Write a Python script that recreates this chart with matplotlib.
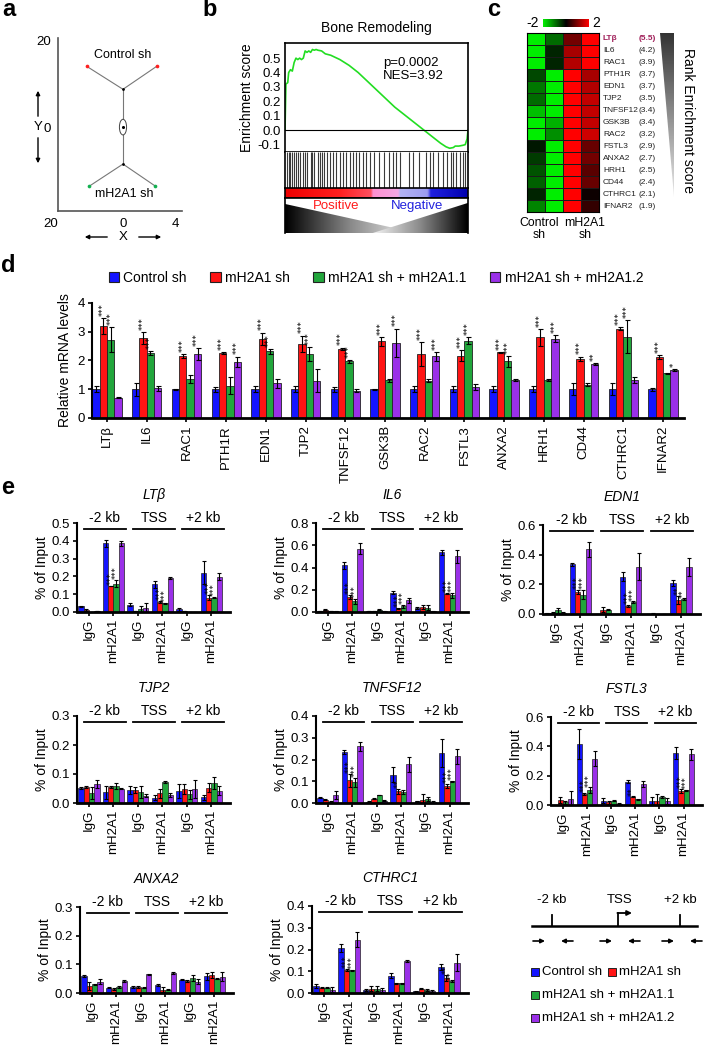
import numpy as np
import matplotlib
matplotlib.use("Agg")
import matplotlib.pyplot as plt
from matplotlib.patches import Polygon, Rectangle, Ellipse
from matplotlib.colors import LinearSegmentedColormap
import matplotlib.transforms as mtransforms

plt.rcParams['font.family'] = ['Liberation Sans', 'DejaVu Sans']
plt.rcParams['axes.linewidth'] = 1.2

W, H = 704, 1050
fig = plt.figure(figsize=(W / 100, H / 100), dpi=100)


def pax(l, t, r, b):
    return fig.add_axes([l / W, 1 - b / H, (r - l) / W, (b - t) / H])


def ftext(x, y, s, **kw):
    return fig.text(x / W, 1 - y / H, s, **kw)


FS = 9.5
C_BLUE, C_RED, C_GREEN, C_PURPLE = '#1414ff', '#ff1414', '#22a63c', '#9a30e8'
COLORS = [C_BLUE, C_RED, C_GREEN, C_PURPLE]
GROUPS = ['Control sh', 'mH2A1 sh', 'mH2A1 sh + mH2A1.1', 'mH2A1 sh + mH2A1.2']

# ---------------- data: panel a ----------------
a_ctrl_x = [-2.8, 2.6]
a_ctrl_y = [14.0, 14.0]
a_kd_x = [-2.6, 2.5]
a_kd_y = [-13.6, -13.6]
a_node_x = [0.0, 0.0]
a_node_y = [8.7, -8.5]

# ---------------- data: panel b ----------------
es_x = [0.0, 0.005, 0.015, 0.02, 0.03, 0.04, 0.05, 0.06, 0.07, 0.08, 0.09, 0.10,
        0.11, 0.12, 0.13, 0.14, 0.15, 0.16, 0.17, 0.18, 0.20, 0.22, 0.25, 0.30,
        0.35, 0.40, 0.45, 0.50, 0.55, 0.60, 0.65, 0.70, 0.75, 0.80, 0.85, 0.88,
        0.90, 0.92, 0.93, 0.95, 0.97, 0.985, 0.995, 1.0]
es_y = [0.0, 0.32, 0.33, 0.40, 0.42, 0.41, 0.47, 0.50, 0.49, 0.50, 0.49, 0.50,
        0.55, 0.54, 0.55, 0.54, 0.56, 0.555, 0.56, 0.555, 0.55, 0.53, 0.52, 0.49,
        0.45, 0.40, 0.34, 0.28, 0.22, 0.16, 0.11, 0.06, 0.01, -0.04, -0.09, -0.115,
        -0.125, -0.12, -0.11, -0.11, -0.105, -0.10, -0.06, 0.0]
hits = [0.01, 0.02, 0.03, 0.04, 0.05, 0.06, 0.07, 0.08, 0.10, 0.11, 0.12, 0.14,
        0.15, 0.16, 0.18, 0.19, 0.20, 0.215, 0.23, 0.245, 0.26, 0.28, 0.30, 0.315,
        0.335, 0.355, 0.37, 0.39, 0.405, 0.425, 0.445, 0.465, 0.485, 0.515, 0.54,
        0.57, 0.59, 0.605, 0.63, 0.68, 0.70, 0.73, 0.77, 0.79, 0.81, 0.835, 0.865,
        0.885, 0.905, 0.92, 0.935, 0.955, 0.97, 0.985]

# ---------------- data: panel c ----------------
c_genes = ['LTβ', 'IL6', 'RAC1', 'PTH1R', 'EDN1', 'TJP2', 'TNFSF12', 'GSK3B',
           'RAC2', 'FSTL3', 'ANXA2', 'HRH1', 'CD44', 'CTHRC1', 'IFNAR2']
c_scores = ['(5.5)', '(4.2)', '(3.9)', '(3.7)', '(3.7)', '(3.5)', '(3.4)', '(3.4)',
            '(3.2)', '(2.9)', '(2.7)', '(2.5)', '(2.4)', '(2.1)', '(1.9)']
c_values = [[-2.0, -0.9, 0.9, 2.0],
            [-2.0, -0.3, 1.3, 2.0],
            [-2.0, -0.3, 1.4, 2.0],
            [-0.6, -2.0, 2.0, 1.3],
            [-1.0, -2.0, 2.0, 1.4],
            [-0.9, -2.0, 2.0, 1.5],
            [-1.6, -2.0, 2.0, 1.5],
            [-2.0, -1.5, 2.0, 1.5],
            [-2.0, -1.2, 2.0, 1.6],
            [-0.2, -2.0, 2.0, 0.8],
            [-0.5, -2.0, 2.0, 0.9],
            [-0.7, -2.0, 2.0, 0.7],
            [-0.8, -2.0, 2.0, 0.8],
            [-0.3, -2.0, 2.0, 0.1],
            [-1.1, -2.0, 2.0, 0.4]]

# ---------------- data: panel d ----------------
d_genes = c_genes
d_ctrl = [1.0, 1.0, 1.0, 1.0, 1.0, 1.0, 1.0, 1.0, 1.0, 1.0, 1.0, 1.0, 1.0, 1.0, 1.0]
d_ctrl_err = [0.1, 0.22, 0.01, 0.08, 0.1, 0.1, 0.08, 0.01, 0.1, 0.1, 0.1, 0.1, 0.2, 0.2, 0.05]
d_kd = [3.2, 2.78, 2.15, 2.25, 2.75, 2.58, 2.4, 2.67, 2.23, 2.17, 2.28, 2.8, 2.05, 3.1, 2.12]
d_kd_err = [0.27, 0.2, 0.08, 0.03, 0.22, 0.28, 0.05, 0.15, 0.42, 0.2, 0.02, 0.3, 0.08, 0.05, 0.06]
d_r11 = [2.72, 2.25, 1.35, 1.12, 2.32, 2.22, 1.97, 1.31, 1.3, 2.68, 1.97, 1.31, 1.16, 2.83, 1.55]
d_r11_err = [0.43, 0.07, 0.15, 0.3, 0.08, 0.25, 0.05, 0.05, 0.04, 0.12, 0.18, 0.04, 0.05, 0.58, 0.02]
d_r12 = [0.7, 1.03, 2.22, 1.95, 1.2, 1.3, 0.95, 2.61, 2.14, 1.09, 1.32, 2.75, 1.87, 1.33, 1.66]
d_r12_err = [0.02, 0.08, 0.22, 0.18, 0.15, 0.4, 0.05, 0.5, 0.15, 0.1, 0.04, 0.12, 0.03, 0.1, 0.03]
d_stars = [[(1, '***'), (2, '***')], [(1, '***'), (2, '***')], [(1, '***'), (3, '***')],
           [(1, '***'), (3, '***')], [(1, '***'), (2, '***')], [(1, '***'), (2, '***')],
           [(1, '***'), (2, '***')], [(1, '***'), (3, '***')], [(1, '***'), (3, '***')],
           [(1, '***'), (2, '***')], [(1, '***'), (2, '***')], [(1, '***'), (3, '***')],
           [(1, '***'), (3, '**')], [(1, '***'), (2, '***')], [(1, '***'), (3, '*')]]

# ---------------- data: panel e ----------------
e_sites = ['IgG', 'mH2A1', 'IgG', 'mH2A1', 'IgG', 'mH2A1']
e_regions = ['-2 kb', 'TSS', '+2 kb']

LTB_V = [[0.032, 0.387, 0.040, 0.155, 0.015, 0.220],
         [0.012, 0.145, 0.005, 0.055, 0.003, 0.080],
         [0.000, 0.160, 0.015, 0.050, 0.000, 0.080],
         [0.005, 0.385, 0.020, 0.190, 0.000, 0.198]]
LTB_E = [[0.004, 0.020, 0.008, 0.020, 0.008, 0.065],
         [0.004, 0.000, 0.000, 0.005, 0.000, 0.015],
         [0.000, 0.020, 0.020, 0.003, 0.000, 0.003],
         [0.002, 0.012, 0.030, 0.004, 0.000, 0.020]]
LTB_S = {1: [(1, '***'), (2, '***')], 3: [(1, '***'), (2, '***')], 5: [(1, '***'), (2, '***')]}

IL6_V = [[0.010, 0.420, 0.010, 0.175, 0.035, 0.535],
         [0.020, 0.135, 0.010, 0.035, 0.045, 0.165],
         [0.010, 0.095, 0.020, 0.050, 0.040, 0.150],
         [0.005, 0.570, 0.005, 0.105, 0.005, 0.500]]
IL6_E = [[0.003, 0.030, 0.003, 0.015, 0.008, 0.025],
         [0.005, 0.020, 0.003, 0.005, 0.020, 0.005],
         [0.003, 0.020, 0.005, 0.015, 0.020, 0.020],
         [0.002, 0.050, 0.002, 0.020, 0.002, 0.060]]
IL6_S = {1: [(1, '***'), (2, '***')], 3: [(1, '***'), (2, '***')], 5: [(1, '***'), (2, '***')]}

EDN1_V = [[0.005, 0.335, 0.000, 0.250, 0.000, 0.210],
          [0.010, 0.150, 0.030, 0.055, 0.003, 0.095],
          [0.025, 0.130, 0.030, 0.080, 0.000, 0.100],
          [0.010, 0.435, 0.000, 0.320, 0.000, 0.315]]
EDN1_E = [[0.003, 0.010, 0.000, 0.030, 0.000, 0.020],
          [0.005, 0.015, 0.015, 0.005, 0.003, 0.025],
          [0.015, 0.030, 0.003, 0.005, 0.000, 0.005],
          [0.005, 0.050, 0.000, 0.090, 0.000, 0.060]]
EDN1_S = {1: [(1, '***'), (2, '***')], 3: [(1, '***'), (2, '***')], 5: [(1, '**'), (2, '**')]}

TJP2_V = [[0.052, 0.037, 0.045, 0.018, 0.042, 0.020],
          [0.055, 0.055, 0.045, 0.033, 0.048, 0.053],
          [0.035, 0.060, 0.038, 0.072, 0.030, 0.070],
          [0.067, 0.050, 0.025, 0.028, 0.048, 0.042]]
TJP2_E = [[0.002, 0.022, 0.015, 0.008, 0.025, 0.008],
          [0.002, 0.002, 0.010, 0.015, 0.018, 0.015],
          [0.020, 0.010, 0.022, 0.003, 0.015, 0.020],
          [0.014, 0.003, 0.005, 0.008, 0.030, 0.015]]
TJP2_S = {}

TNF_V = [[0.025, 0.235, 0.005, 0.130, 0.008, 0.230],
         [0.015, 0.105, 0.020, 0.053, 0.015, 0.078],
         [0.005, 0.095, 0.037, 0.050, 0.018, 0.100],
         [0.038, 0.260, 0.010, 0.178, 0.005, 0.215]]
TNF_E = [[0.003, 0.010, 0.002, 0.035, 0.002, 0.065],
         [0.003, 0.030, 0.003, 0.012, 0.025, 0.010],
         [0.002, 0.020, 0.002, 0.010, 0.010, 0.003],
         [0.018, 0.020, 0.002, 0.035, 0.005, 0.035]]
TNF_S = {1: [(1, '***'), (2, '***')], 3: [(1, '**')], 5: [(1, '***'), (2, '***')]}

FSTL3_V = [[0.000, 0.415, 0.030, 0.160, 0.025, 0.355],
           [0.035, 0.075, 0.020, 0.055, 0.030, 0.095],
           [0.020, 0.100, 0.030, 0.040, 0.055, 0.100],
           [0.040, 0.315, 0.010, 0.145, 0.025, 0.345]]
FSTL3_E = [[0.000, 0.100, 0.015, 0.010, 0.030, 0.040],
           [0.020, 0.010, 0.010, 0.003, 0.045, 0.012],
           [0.010, 0.020, 0.003, 0.003, 0.005, 0.003],
           [0.055, 0.050, 0.003, 0.020, 0.020, 0.035]]
FSTL3_S = {1: [(1, '***'), (2, '***')], 3: [(1, '**')], 5: [(1, '***'), (2, '***')]}

ANXA2_V = [[0.060, 0.018, 0.022, 0.028, 0.047, 0.058],
           [0.025, 0.015, 0.022, 0.012, 0.042, 0.062],
           [0.030, 0.020, 0.018, 0.012, 0.052, 0.050],
           [0.040, 0.042, 0.065, 0.070, 0.040, 0.057]]
ANXA2_E = [[0.003, 0.002, 0.003, 0.003, 0.003, 0.012],
           [0.015, 0.003, 0.003, 0.010, 0.002, 0.010],
           [0.002, 0.003, 0.002, 0.002, 0.010, 0.002],
           [0.010, 0.003, 0.003, 0.003, 0.008, 0.015]]
ANXA2_S = {}

CTHRC1_V = [[0.032, 0.205, 0.012, 0.080, 0.008, 0.120],
            [0.025, 0.105, 0.020, 0.045, 0.020, 0.070],
            [0.025, 0.105, 0.020, 0.045, 0.015, 0.055],
            [0.015, 0.245, 0.015, 0.148, 0.008, 0.140]]
CTHRC1_E = [[0.008, 0.018, 0.005, 0.012, 0.003, 0.015],
            [0.002, 0.005, 0.010, 0.002, 0.003, 0.015],
            [0.002, 0.002, 0.012, 0.002, 0.005, 0.003],
            [0.012, 0.035, 0.010, 0.006, 0.005, 0.040]]
CTHRC1_S = {1: [(1, '***'), (2, '***')], 5: [(1, '**'), (2, '**')]}

STAR_FONT = ['DejaVu Sans']

# ================= panel labels =================
for lab, x, y in [('a', 9, 10), ('b', 210, 10), ('c', 494, 10), ('d', 8, 265), ('e', 8, 488)]:
    ftext(x, y, lab, fontsize=17, fontweight='bold', ha='center', va='center')

# ================= panel a =================
axA = pax(58, 38, 182, 211)
axA.set_xlim(-5, 4.54)
axA.set_ylim(-19.3, 20.5)
lc = '#777777'
axA.plot([a_ctrl_x[0], a_node_x[0], a_ctrl_x[1]], [a_ctrl_y[0], a_node_y[0], a_ctrl_y[1]], color=lc, lw=0.8)
axA.plot(a_node_x, a_node_y, color=lc, lw=0.8)
axA.plot([a_kd_x[0], a_node_x[1], a_kd_x[1]], [a_kd_y[0], a_node_y[1], a_kd_y[1]], color=lc, lw=0.8)
axA.scatter(a_ctrl_x, a_ctrl_y, s=7, color='#ff2020', zorder=3, linewidths=0)
axA.scatter(a_kd_x, a_kd_y, s=7, color='#12b050', zorder=3, linewidths=0)
axA.scatter(a_node_x, a_node_y, s=4, color='k', zorder=3, linewidths=0)
axA.add_patch(Ellipse((0, 0), 0.55, 3.6, facecolor='white', edgecolor='#444', lw=0.7, zorder=3))
axA.scatter([0], [0], s=1.5, color='k', zorder=4)
axA.text(0, 16.5, 'Control sh', ha='center', va='center', fontsize=9)
axA.text(0.1, -15.3, 'mH2A1 sh', ha='center', va='center', fontsize=9)
for s in ['top', 'right']:
    axA.spines[s].set_visible(False)
for s in ['left', 'bottom']:
    axA.spines[s].set_color('#555555')
axA.set_xticks([-5, 0, 4])
axA.set_xticklabels(['20', '0', '4'], fontsize=FS)
axA.get_xticklabels()[0].set_ha('right')
axA.set_yticks([20, 0])
axA.set_yticklabels(['20', '0'], fontsize=FS)
axA.tick_params(length=0, pad=5)
ftext(38, 127, 'Y', fontsize=FS, ha='center', va='center')
ftext(123, 237, 'X', fontsize=FS, ha='center', va='center')
arr = dict(arrowstyle='-|>', color='k', lw=1.0, mutation_scale=6)
for (x0, y0, x1, y1) in [(38, 119, 38, 88), (38, 135, 38, 166), (110, 237, 82, 237), (136, 237, 164, 237)]:
    fig.add_artist(matplotlib.patches.FancyArrowPatch((x0 / W, 1 - y0 / H), (x1 / W, 1 - y1 / H),
                                                      transform=fig.transFigure, **arr))

# ================= panel b =================
axB = pax(285, 43, 468, 152)
axB.plot(es_x, es_y, color='#22dd22', lw=1.2)
axB.axhline(0, color='k', lw=0.8)
axB.set_xlim(0, 1)
axB.set_ylim(-0.151, 0.605)
axB.set_yticks([0.5, 0.4, 0.3, 0.2, 0.1, 0.0, -0.1])
axB.set_yticklabels(['0.5', '0.4', '0.3', '0.2', '0.1', '0.0', '-0.1'], fontsize=FS)
axB.set_xticks([])
axB.tick_params(axis='y', length=0, pad=3)
axB.set_ylabel('Enrichment score', fontsize=FS + 0.5, labelpad=3)
axB.set_title('Bone Remodeling', fontsize=FS + 0.5, pad=8)
axB.text(0.535, 0.82, 'p=0.0002', transform=axB.transAxes, fontsize=FS, va='center')
axB.text(0.535, 0.70, 'NES=3.92', transform=axB.transAxes, fontsize=FS, va='center')

axH = pax(285, 152, 468, 188)
axH.vlines(hits, 0, 1, color='#3a3a3a', lw=0.8)
axH.set_xlim(0, 1)
axH.set_ylim(0, 1)
axH.set_xticks([])
axH.set_yticks([])
axH.spines['top'].set_visible(False)
axH.spines['bottom'].set_visible(False)

axR = pax(285, 188, 468, 198)
rank_cmap = LinearSegmentedColormap.from_list(
    'rank', [(0.0, '#ee0000'), (0.3, '#ff2020'), (0.47, '#ff5060'), (0.48, '#ff90d0'),
             (0.62, '#f4a8e4'), (0.63, '#b4b4f4'), (0.78, '#9c9cf0'), (0.80, '#2020e0'),
             (1.0, '#0000b0')])
axR.imshow(np.linspace(0, 1, 400)[None, :], cmap=rank_cmap, aspect='auto', extent=[0, 1, 0, 1])
axR.set_xticks([])
axR.set_yticks([])

axG = pax(285, 198, 468, 233)
axG.set_xlim(0, 1)
axG.set_ylim(0, 1)
xx = np.linspace(0, 1, 300)
gcm = LinearSegmentedColormap.from_list('gw', ['#000000', '#8a8a8a', '#f4f4f4'])
lp = Polygon([(0, 0.83), (0.72, 0), (0, 0)], closed=True, facecolor='none', edgecolor='none')
rp = Polygon([(1, 0.86), (0.48, 0), (1, 0)], closed=True, facecolor='none', edgecolor='none')
axG.add_patch(lp)
axG.add_patch(rp)
iml = axG.imshow(np.clip(xx / 0.72, 0, 1)[None, :], cmap=gcm, aspect='auto', extent=[0, 1, 0, 1], vmin=0, vmax=1)
iml.set_clip_path(lp)
imr = axG.imshow(np.clip((1 - xx) / 0.52, 0, 1)[None, :], cmap=gcm, aspect='auto', extent=[0, 1, 0, 1], vmin=0, vmax=1)
imr.set_clip_path(rp)
axG.set_xticks([])
axG.set_yticks([])
axG.spines['bottom'].set_visible(False)
axG.text(0.28, 0.76, 'Positive', color='#ff1a1a', fontsize=FS, ha='center', va='center')
axG.text(0.72, 0.76, 'Negative', color='#2222dd', fontsize=FS, ha='center', va='center')

# ================= panel c =================
axC = pax(527, 33, 599, 212)
hm_cmap = LinearSegmentedColormap.from_list('gkr', ['#00ee00', '#000000', '#ff0000'])
vals = np.array(c_values)
axC.pcolormesh(np.arange(5) - 0.5, np.arange(len(c_genes) + 1) - 0.5, vals, cmap=hm_cmap,
               vmin=-2, vmax=2, edgecolors='#1a1a1a', linewidth=0.5)
axC.set_xlim(-0.5, 3.5)
axC.set_ylim(len(c_genes) - 0.5, -0.5)
axC.set_xticks([])
axC.set_yticks([])
for s in axC.spines.values():
    s.set_linewidth(0.8)
for i, (g, sc) in enumerate(zip(c_genes, c_scores)):
    col = '#a0205a' if i == 0 else '#222222'
    fw = 'bold' if i == 0 else 'normal'
    axC.text(3.72, i, g, fontsize=6, color=col, fontweight=fw, ha='left', va='center')
    axC.text(6.65, i, sc, fontsize=6, color=col, fontweight=fw, ha='right', va='center', clip_on=False)

axCB = pax(543, 19, 588, 27)
axCB.imshow(np.linspace(-2, 2, 200)[None, :], cmap=hm_cmap, aspect='auto', vmin=-2, vmax=2)
axCB.set_xticks([])
axCB.set_yticks([])
for s in axCB.spines.values():
    s.set_visible(False)
ftext(533, 23, '-2', fontsize=FS + 0.5, ha='center', va='center')
ftext(596, 23, '2', fontsize=FS + 0.5, ha='center', va='center')

axT = pax(660, 33, 674, 197)
axT.set_xlim(0, 1)
axT.set_ylim(0, 1)
tp = Polygon([(0, 1), (1, 1), (1, 0)], closed=True, facecolor='none', edgecolor='none')
axT.add_patch(tp)
imt = axT.imshow(np.linspace(0, 1, 200)[:, None], cmap=LinearSegmentedColormap.from_list('tg', ['#e8e8e8', '#333333']),
                 aspect='auto', extent=[0, 1, 0, 1], origin='lower')
imt.set_clip_path(tp)
axT.axis('off')
ftext(688, 120, 'Rank Enrichment score', fontsize=10, rotation=270, ha='center', va='center')
ftext(539, 229, 'Control\nsh', fontsize=8.8, ha='center', va='center', linespacing=0.95)
ftext(585, 229, 'mH2A1\nsh', fontsize=8.8, ha='center', va='center', linespacing=0.95)

# ================= panel d =================
axD = pax(92, 303, 684, 418)
xd = np.arange(len(d_genes))
bwd = 0.185
d_series = [(d_ctrl, d_ctrl_err), (d_kd, d_kd_err), (d_r11, d_r11_err), (d_r12, d_r12_err)]
ekw = dict(ecolor='k', elinewidth=0.8, capsize=1.8, capthick=0.8)
for k, (v, e) in enumerate(d_series):
    axD.bar(xd + (k - 1.5) * bwd, v, bwd, yerr=e, color=COLORS[k], edgecolor='#222222',
            linewidth=0.6, error_kw=ekw)
for i, st in enumerate(d_stars):
    for k, s in st:
        v, e = d_series[k]
        axD.text(xd[i] + (k - 1.5) * bwd, v[i] + e[i] + 0.08, s, rotation=90, ha='center',
                 va='bottom', fontsize=6, family=STAR_FONT, clip_on=False)
axD.set_xlim(-0.38, 14.53)
axD.set_ylim(0, 4)
axD.set_yticks([0, 1, 2, 3, 4])
axD.set_xticks(xd)
axD.set_xticklabels(d_genes, rotation=90, fontsize=FS)
axD.tick_params(axis='y', labelsize=FS, length=3, width=1.2, pad=2)
axD.tick_params(axis='x', length=3, width=1.2, pad=2)
axD.set_ylabel('Relative mRNA levels', fontsize=FS + 0.5, labelpad=4)
axD.spines['top'].set_visible(False)
axD.spines['right'].set_visible(False)
axD.spines['bottom'].set_linewidth(2.0)
axD.spines['left'].set_linewidth(1.5)
handles = [Rectangle((0, 0), 1, 1, facecolor=c, edgecolor='#222222', lw=0.8) for c in COLORS]
fig.legend(handles, GROUPS, loc='center', bbox_to_anchor=(376 / W, 1 - 278 / H), ncol=4,
           frameon=False, fontsize=FS + 0.5, handlelength=0.75, handleheight=0.75,
           handletextpad=0.3, columnspacing=1.7, borderaxespad=0)


# ================= panel e =================
def chip(l, t, r, b, name, vals, errs, ymax, step, stars):
    ax = pax(l, t, r, b)
    h = b - t
    x = np.arange(6)
    bw = 0.215
    for k in range(4):
        ax.bar(x + (k - 1.5) * bw, vals[k], bw, yerr=errs[k], color=COLORS[k], edgecolor='#222222',
               linewidth=0.5, error_kw=dict(ecolor='k', elinewidth=0.8, capsize=1.5, capthick=0.8))
    for g, lst in stars.items():
        for k, s in lst:
            ax.text(g + (k - 1.5) * bw, vals[k][g] + errs[k][g] + ymax * 0.01, s, rotation=90,
                    ha='center', va='bottom', fontsize=6, family=STAR_FONT, clip_on=False)
    ax.set_xlim(-0.49, 5.76)
    ax.set_ylim(0, ymax)
    ax.set_yticks(np.arange(0, ymax + 1e-9, step))
    ax.yaxis.set_major_formatter('{x:.1f}')
    ax.set_xticks(x)
    ax.set_xticklabels(e_sites, rotation=90, fontsize=FS)
    ax.tick_params(axis='y', labelsize=FS, length=3, width=1.2, pad=2)
    ax.tick_params(axis='x', length=3, width=1.2, pad=2)
    ax.set_ylabel('% of Input', fontsize=FS + 0.5, labelpad=2)
    ax.spines['top'].set_visible(False)
    ax.spines['right'].set_visible(False)
    ax.spines['bottom'].set_linewidth(2.0)
    ax.spines['left'].set_linewidth(1.5)
    tr = mtransforms.blended_transform_factory(ax.transData, ax.transAxes)
    for j, reg in enumerate(e_regions):
        cx = 2 * j + 0.65
        ax.plot([cx - 0.85, cx + 0.85], [1 - 6 / h, 1 - 6 / h], transform=tr, color='k', lw=1.3, clip_on=False)
        ax.text(cx, 1 + 1 / h, reg, transform=tr, ha='center', va='baseline', fontsize=FS + 0.5)
    ax.text(2.65, 1 + 28 / h, name, transform=tr, ha='center', va='center', fontsize=FS + 0.5, style='italic')
    return ax


chip(77, 523, 230, 612, 'LTβ', LTB_V, LTB_E, 0.5, 0.1, LTB_S)
chip(316, 523, 468, 612, 'IL6', IL6_V, IL6_E, 0.8, 0.2, IL6_S)
chip(543, 525, 700, 614, 'EDN1', EDN1_V, EDN1_E, 0.6, 0.2, EDN1_S)
chip(77, 716, 230, 803, 'TJP2', TJP2_V, TJP2_E, 0.3, 0.1, TJP2_S)
chip(316, 716, 468, 803, 'TNFSF12', TNF_V, TNF_E, 0.4, 0.1, TNF_S)
chip(551, 717, 702, 805, 'FSTL3', FSTL3_V, FSTL3_E, 0.6, 0.2, FSTL3_S)
chip(80, 907, 233, 993, 'ANXA2', ANXA2_V, ANXA2_E, 0.3, 0.1, ANXA2_S)
chip(312, 906, 468, 993, 'CTHRC1', CTHRC1_V, CTHRC1_E, 0.4, 0.1, CTHRC1_S)

# ================= schematic + legend =================
axS = pax(525, 880, 704, 1045)
axS.set_xlim(525, 704)
axS.set_ylim(1045, 880)
axS.axis('off')
axS.plot([532, 697], [926, 926], color='k', lw=1.8)
axS.plot([552, 552], [915, 926], color='k', lw=1.3)
axS.plot([680, 680], [915, 926], color='k', lw=1.3)
axS.plot([618, 618], [926, 913], color='k', lw=1.3)
axS.annotate('', xy=(632, 913), xytext=(617.4, 913),
             arrowprops=dict(arrowstyle='-|>', color='k', lw=1.3, mutation_scale=7, shrinkA=0, shrinkB=0))
for xt, s in [(552, '-2 kb'), (620, 'TSS'), (680, '+2 kb')]:
    axS.text(xt, 900, s, ha='center', va='center', fontsize=FS)
for (x0, x1) in [(533, 545), (573, 561), (600, 612), (640, 628), (662, 674), (702, 690)]:
    axS.annotate('', xy=(x1, 941), xytext=(x0, 941),
                 arrowprops=dict(arrowstyle='-|>', color='k', lw=1.2, mutation_scale=6, shrinkA=0, shrinkB=0))
sq = 8
for (xs, ys, c, lab) in [(531, 972, C_BLUE, 'Control sh'), (608, 972, C_RED, 'mH2A1 sh'),
                         (531, 995, C_GREEN, 'mH2A1 sh + mH2A1.1'), (531, 1018, C_PURPLE, 'mH2A1 sh + mH2A1.2')]:
    axS.add_patch(Rectangle((xs, ys - sq / 2), sq, sq, facecolor=c, edgecolor='#222222', lw=0.7))
    axS.text(xs + sq + 3, ys, lab, ha='left', va='center', fontsize=FS)

fig.savefig('out.png', dpi=100)
